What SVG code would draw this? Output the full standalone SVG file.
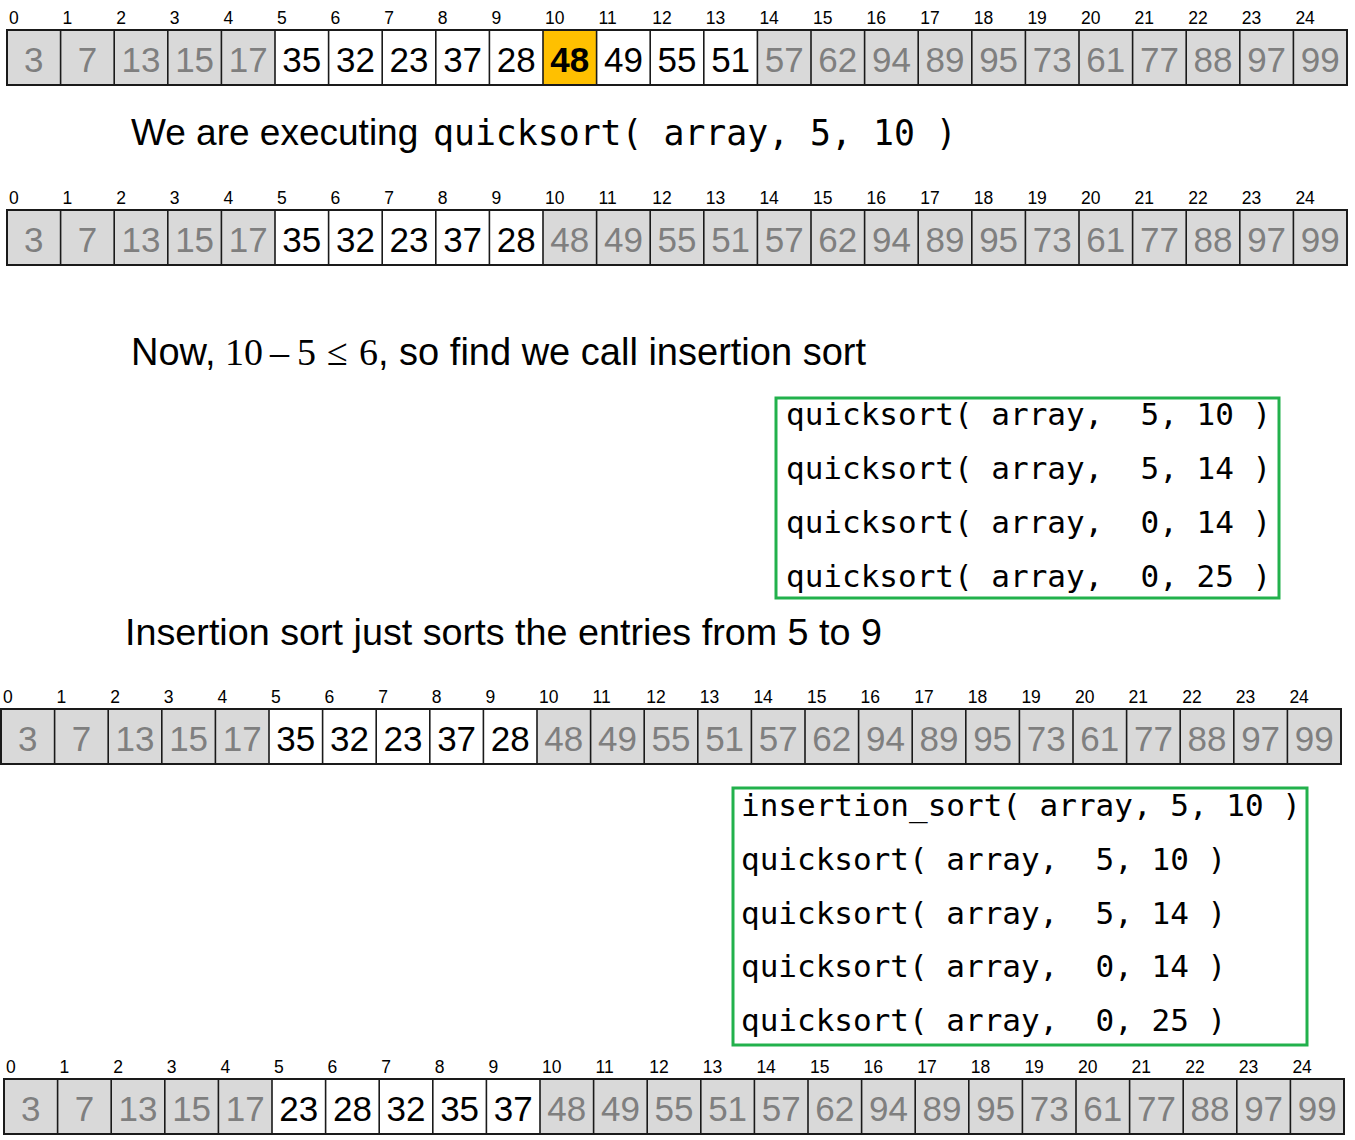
<svg xmlns="http://www.w3.org/2000/svg" xmlns:xlink="http://www.w3.org/1999/xlink" width="1355" height="1140" viewBox="0 0 1355 1140">
<style>
.bg{fill:#d9d9d9;stroke:none}
.wc{fill:#ffffff;stroke:none}
.yc{fill:#ffc000;stroke:none}
.grid{stroke:#1a1a1a;stroke-width:1.6;fill:none}
.frame{fill:none;stroke:#1a1a1a;stroke-width:2}
.idx{font-family:"Liberation Sans",Arial,sans-serif;font-size:17.5px;fill:#000}
.val{font-family:"Liberation Sans",Arial,sans-serif;font-size:35px;text-anchor:middle}
.gv{fill:#7f7f7f}
.bv{fill:#000}
.hv{fill:#000;font-weight:bold}
.sans{font-family:"Liberation Sans",Arial,sans-serif;fill:#000}
.serif{font-family:"Liberation Serif","Times New Roman",serif;fill:#000}
.mono{font-family:"DejaVu Sans Mono","Liberation Mono",monospace;fill:#000;white-space:pre}
.box{fill:none;stroke:#22b14c;stroke-width:3}
</style>
<defs>
<path id="grid" class="grid" d="M53.6 0V55M107.2 0V55M160.8 0V55M214.4 0V55M268 0V55M321.6 0V55M375.2 0V55M428.8 0V55M482.4 0V55M536 0V55M589.6 0V55M643.2 0V55M696.8 0V55M750.4 0V55M804 0V55M857.6 0V55M911.2 0V55M964.8 0V55M1018.4 0V55M1072 0V55M1125.6 0V55M1179.2 0V55M1232.8 0V55M1286.4 0V55"/>
<g id="idx" class="idx">
<text x="2" y="-6">0</text><text x="55.6" y="-6">1</text><text x="109.2" y="-6">2</text><text x="162.8" y="-6">3</text><text x="216.4" y="-6">4</text><text x="270" y="-6">5</text><text x="323.6" y="-6">6</text><text x="377.2" y="-6">7</text><text x="430.8" y="-6">8</text><text x="484.4" y="-6">9</text><text x="538" y="-6">10</text><text x="591.6" y="-6">11</text><text x="645.2" y="-6">12</text><text x="698.8" y="-6">13</text><text x="752.4" y="-6">14</text><text x="806" y="-6">15</text><text x="859.6" y="-6">16</text><text x="913.2" y="-6">17</text><text x="966.8" y="-6">18</text><text x="1020.4" y="-6">19</text><text x="1074" y="-6">20</text><text x="1127.6" y="-6">21</text><text x="1181.2" y="-6">22</text><text x="1234.8" y="-6">23</text><text x="1288.4" y="-6">24</text>
</g>
<g id="lowvals" class="val gv">
<text x="26.8" y="42">3</text><text x="80.4" y="42">7</text><text x="134" y="42">13</text><text x="187.6" y="42">15</text><text x="241.2" y="42">17</text>
</g>
<g id="midgrey" class="val gv">
<text x="562.8" y="42">48</text><text x="616.4" y="42">49</text><text x="670" y="42">55</text><text x="723.6" y="42">51</text>
</g>
<g id="highvals" class="val gv">
<text x="777.2" y="42">57</text><text x="830.8" y="42">62</text><text x="884.4" y="42">94</text><text x="938" y="42">89</text><text x="991.6" y="42">95</text><text x="1045.2" y="42">73</text><text x="1098.8" y="42">61</text><text x="1152.4" y="42">77</text><text x="1206" y="42">88</text><text x="1259.6" y="42">97</text><text x="1313.2" y="42">99</text>
</g>
<g id="unsorted" class="val bv">
<text x="294.8" y="42">35</text><text x="348.4" y="42">32</text><text x="402" y="42">23</text><text x="455.6" y="42">37</text><text x="509.2" y="42">28</text>
</g>
</defs>

<g id="array1" transform="translate(7,30)">
<rect class="bg" width="1340" height="55"/>
<rect class="wc" x="268" width="268" height="55"/>
<rect class="yc" x="536" width="53.6" height="55"/>
<rect class="wc" x="589.6" width="160.8" height="55"/>
<use xlink:href="#grid"/>
<rect class="frame" width="1340" height="55"/>
<use xlink:href="#idx"/>
<use xlink:href="#lowvals"/>
<use xlink:href="#unsorted"/>
<text class="val hv" x="562.8" y="42">48</text>
<g class="val bv"><text x="616.4" y="42">49</text><text x="670" y="42">55</text><text x="723.6" y="42">51</text></g>
<use xlink:href="#highvals"/>
</g>

<g id="caption1">
<text class="sans" x="131" y="145" font-size="37">We are executing</text>
<text class="mono" x="433" y="145" font-size="34.8">quicksort( array, 5, 10 )</text>
</g>

<g id="array2" transform="translate(7,210)">
<rect class="bg" width="1340" height="55"/>
<rect class="wc" x="268" width="268" height="55"/>
<use xlink:href="#grid"/>
<rect class="frame" width="1340" height="55"/>
<use xlink:href="#idx"/>
<use xlink:href="#lowvals"/>
<use xlink:href="#unsorted"/>
<use xlink:href="#midgrey"/>
<use xlink:href="#highvals"/>
</g>

<g id="caption2">
<text class="sans" x="131" y="365" font-size="38">Now,</text>
<text class="serif" x="225" y="365" font-size="38">10</text>
<text class="serif" x="270" y="365" font-size="38">–</text>
<text class="serif" x="297" y="365" font-size="38">5</text>
<text class="serif" x="327" y="365" font-size="38">≤</text>
<text class="serif" x="359" y="365" font-size="38">6</text>
<text class="sans" x="378" y="365" font-size="38" textLength="488" lengthAdjust="spacingAndGlyphs">, so find we call insertion sort</text>
</g>

<g id="stack1">
<rect class="box" x="776" y="398" width="503" height="200"/>
<text class="mono" x="786" y="425" font-size="31">quicksort( array,  5, 10 )</text>
<text class="mono" x="786" y="479" font-size="31">quicksort( array,  5, 14 )</text>
<text class="mono" x="786" y="533" font-size="31">quicksort( array,  0, 14 )</text>
<text class="mono" x="786" y="587" font-size="31">quicksort( array,  0, 25 )</text>
</g>

<g id="caption3">
<text class="sans" x="125" y="645" font-size="37.5" textLength="757" lengthAdjust="spacingAndGlyphs">Insertion sort just sorts the entries from 5 to 9</text>
</g>

<g id="array3" transform="translate(1,709)">
<rect class="bg" width="1340" height="55"/>
<rect class="wc" x="268" width="268" height="55"/>
<use xlink:href="#grid"/>
<rect class="frame" width="1340" height="55"/>
<use xlink:href="#idx"/>
<use xlink:href="#lowvals"/>
<use xlink:href="#unsorted"/>
<use xlink:href="#midgrey"/>
<use xlink:href="#highvals"/>
</g>

<g id="stack2">
<rect class="box" x="733" y="788" width="574" height="257"/>
<text class="mono" x="741" y="816" font-size="31">insertion_sort( array, 5, 10 )</text>
<text class="mono" x="741" y="870" font-size="31">quicksort( array,  5, 10 )</text>
<text class="mono" x="741" y="924" font-size="31">quicksort( array,  5, 14 )</text>
<text class="mono" x="741" y="977" font-size="31">quicksort( array,  0, 14 )</text>
<text class="mono" x="741" y="1031" font-size="31">quicksort( array,  0, 25 )</text>
</g>

<g id="array4" transform="translate(4,1079)">
<rect class="bg" width="1340" height="55"/>
<rect class="wc" x="268" width="268" height="55"/>
<use xlink:href="#grid"/>
<rect class="frame" width="1340" height="55"/>
<use xlink:href="#idx"/>
<use xlink:href="#lowvals"/>
<g class="val bv"><text x="294.8" y="42">23</text><text x="348.4" y="42">28</text><text x="402" y="42">32</text><text x="455.6" y="42">35</text><text x="509.2" y="42">37</text></g>
<use xlink:href="#midgrey"/>
<use xlink:href="#highvals"/>
</g>
</svg>
